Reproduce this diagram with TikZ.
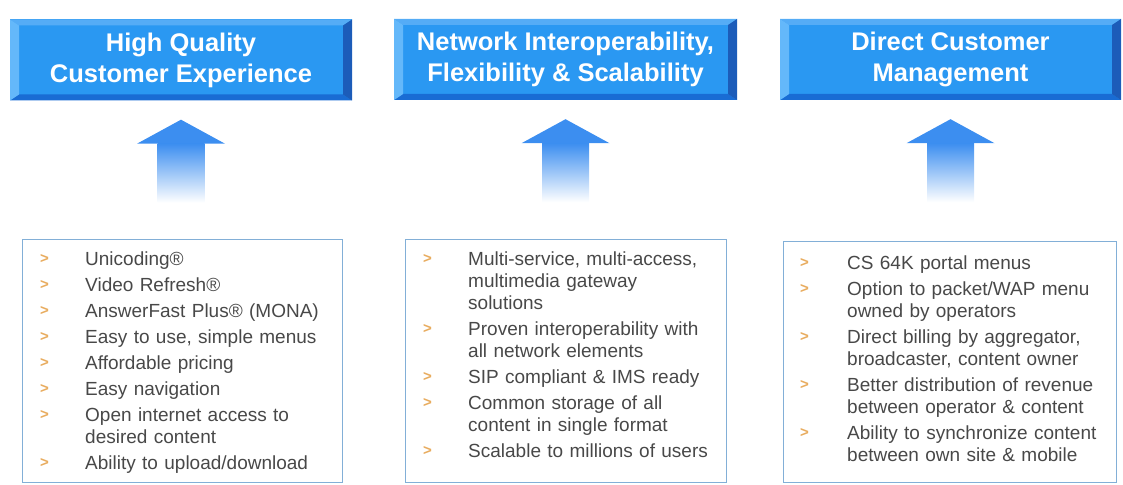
\documentclass[tikz,border=0pt]{standalone}
\usepackage{fontspec}
\setmainfont{Liberation Sans}
\usepackage{tikz}

\definecolor{headblue}{RGB}{42,152,242}
\definecolor{bevtop}{RGB}{85,172,246}
\definecolor{bevleft}{RGB}{100,184,250}
\definecolor{bevright}{RGB}{28,92,185}
\definecolor{bevbottom}{RGB}{25,108,212}
\definecolor{arrowblue}{RGB}{60,142,240}
\definecolor{lavender}{RGB}{190,200,250}
\definecolor{framecol}{RGB}{130,175,215}
\definecolor{bulletcol}{RGB}{232,172,95}
\definecolor{textgray}{RGB}{72,72,72}

\tikzset{
  header/.style = {rectangle, fill=headblue, minimum width=#1, minimum height=81pt, inner sep=0pt,
    text=white, align=center, font=\fontsize{25.5}{31}\selectfont\bfseries,
    path picture={
      \coordinate (nw) at (path picture bounding box.north west);
      \coordinate (ne) at (path picture bounding box.north east);
      \coordinate (sw) at (path picture bounding box.south west);
      \coordinate (se) at (path picture bounding box.south east);
      \fill[bevtop] (nw) -- (ne) -- ([shift={(-9,-6)}]ne) -- ([shift={(9,-6)}]nw) -- cycle;
      \fill[bevbottom] (sw) -- (se) -- ([shift={(-9,6)}]se) -- ([shift={(9,6)}]sw) -- cycle;
      \fill[bevleft] (nw) -- (sw) -- ([shift={(9,6)}]sw) -- ([shift={(9,-6)}]nw) -- cycle;
      \fill[bevright] (ne) -- (se) -- ([shift={(-9,6)}]se) -- ([shift={(-9,-6)}]ne) -- cycle;
    }},
  listbox/.style = {rectangle, draw=framecol, line width=1.2pt, inner sep=0pt, anchor=north west},
  bullet/.style = {anchor=base west, inner sep=0pt, yshift=2pt, text=bulletcol, font=\fontsize{15}{15}\selectfont\bfseries},
  item/.style = {anchor=base west, inner sep=0pt, text width=290pt, align=left, text=textgray,
    font=\fontsize{19}{22}\selectfont}
}

\begin{document}
\begin{tikzpicture}[x = 1pt, y = 1pt]
        \useasboundingbox (0,0) rectangle (1123,-484);
        \node[header=342pt] (h1) at (181,-60) {High Quality\\Customer Experience};
        \node[header=343pt] (h2) at (565.5,-59.5) {Network Interoperability,\\Flexibility \& Scalability};
        \node[header=341pt] (h3) at (950.5,-59.5) {Direct Customer\\Management};
        \foreach \h in {h1,h2,h3} {
          \fill[arrowblue] ([shift={(0,-19)}]\h.south) -- ([shift={(44,-43)}]\h.south) -- ([shift={(-44,-43)}]\h.south) -- cycle;
          \shade[top color=arrowblue, middle color=lavender, bottom color=white] ([shift={(-23.5,-43)}]\h.south) rectangle ([shift={(23.5,-102)}]\h.south);
        }
        \node[listbox, minimum width=320pt, minimum height=243pt] (l1) at (22,-239) {};
        \node[listbox, minimum width=321pt, minimum height=243pt] (l2) at (405,-239) {};
        \node[listbox, minimum width=333pt, minimum height=241pt] (l3) at (783,-241) {};
        \foreach \t/\dy [count=\i] in {Unicoding®/0, Video Refresh®/26, AnswerFast Plus® (MONA)/52,
            {Easy to use, simple menus}/78, Affordable pricing/104, Easy navigation/130,
            {Open internet access to\\desired content}/156, {Ability to upload/download}/204} {
          \node[bullet] (b1\i) at ([shift={(18,-26-\dy)}]l1.north west) {>};
          \node[item] (t1\i) at ([shift={(63,-26-\dy)}]l1.north west) {\t};
        }
        \foreach \t/\dy [count=\i] in {{Multi-service, multi-access,\\multimedia gateway\\solutions}/0,
            {Proven interoperability with\\all network elements}/70, SIP compliant \& IMS ready/118,
            {Common storage of all\\content in single format}/144, Scalable to millions of users/192} {
          \node[bullet] (b2\i) at ([shift={(18,-26-\dy)}]l2.north west) {>};
          \node[item] (t2\i) at ([shift={(63,-26-\dy)}]l2.north west) {\t};
        }
        \foreach \t/\dy [count=\i] in {CS 64K portal menus/0, {Option to packet/WAP menu\\owned by operators}/26,
            {Direct billing by aggregator,\\broadcaster, content owner}/74,
            {Better distribution of revenue\\between operator \& content}/122,
            {Ability to synchronize content\\between own site \& mobile}/170} {
          \node[bullet] (b3\i) at ([shift={(17,-28-\dy)}]l3.north west) {>};
          \node[item] (t3\i) at ([shift={(64,-28-\dy)}]l3.north west) {\t};
        }
      \end{tikzpicture}
\end{document}
